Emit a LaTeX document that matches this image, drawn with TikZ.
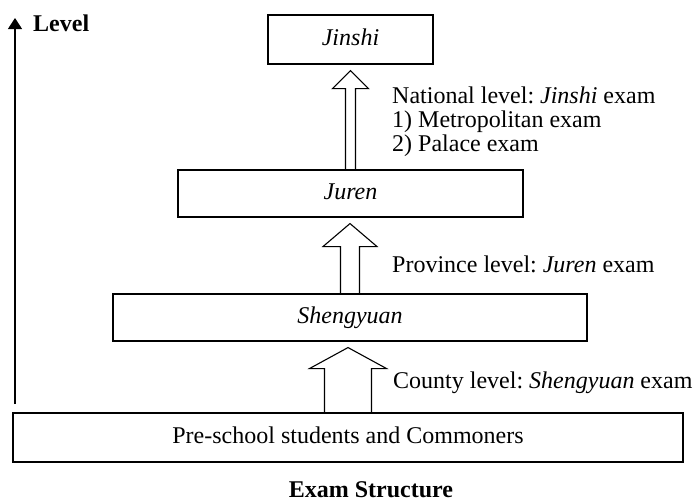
\documentclass[tikz,border=0pt]{standalone}
\usepackage{fontspec}
\setmainfont{Liberation Serif}
\usepackage{tikz}
\usetikzlibrary{arrows.meta}
\frenchspacing
\tikzset{
  font={\fontsize{24pt}{24pt}\selectfont}}

% hollow block arrow from one box up to the next
\newcommand{\examarrow}[5]{%
  \coordinate (#1-tip) at (#1.north |- #2.south);
  \draw[blockarrow] ([xshift=-#3]#1.north) -- ([xshift=-#3,yshift=-#5]#1-tip) -- ([xshift=-#4,yshift=-#5]#1-tip) -- ([yshift=-6pt]#1-tip) -- ([xshift=#4,yshift=-#5]#1-tip) -- ([xshift=#3,yshift=-#5]#1-tip) -- ([xshift=#3]#1.north);}

\begin{document}
\begin{tikzpicture}[x=1pt, y=-1pt]

    \tikzset{box/.style = {draw, rectangle, line width=1.1pt, inner sep=0pt, text height=16pt, text depth=5pt},
             blockarrow/.style = {draw, line width=1.1pt, line join=miter},
             examtext/.style = {inner sep=0pt, align=left}}

    \useasboundingbox (0,0) rectangle (693,501);

    % levels
    \node[box, minimum width=165pt, minimum height=49pt] (jinshi) at (350.5,39.5) {\textit{Jinshi}};
    \node[box, minimum width=345pt, minimum height=47pt] (juren) at (350.5,193.5) {\textit{Juren}};
    \node[box, minimum width=474pt, minimum height=47pt] (shengyuan) at (350,317.5) {\textit{Shengyuan}};
    \node[box, minimum width=670pt, minimum height=49pt] (commoners) at (348,437.5) {Pre-school students and Commoners};

    % exams
    \examarrow{juren}{jinshi}{5pt}{18pt}{24pt}
    \examarrow{shengyuan}{juren}{9.5pt}{27pt}{29pt}
    \examarrow{commoners}{shengyuan}{23.5pt}{38.5pt}{27pt}

    \node[examtext, anchor=north west] (national) at (392,86.6) {National level: \textit{Jinshi} exam\\1) Metropolitan exam\\2) Palace exam};
    \node[examtext, anchor=base west] (province) at (392,272) {Province level: \textit{Juren} exam};
    \node[examtext, anchor=base west] (county) at (393,388) {County level: \textit{Shengyuan} exam};

    % axis
    \coordinate (levelbottom) at (15,404);
    \coordinate (leveltop) at (15,18);
    \draw[line width=1.1pt, -{Triangle[width=14pt,length=11pt]}] (levelbottom) -- (leveltop);
    \node[examtext, anchor=base west] (level) at (33,31) {\textbf{Level}};

    \node[examtext, anchor=base] (caption) at (371,497) {\textbf{Exam Structure}};

\end{tikzpicture}
\end{document}
